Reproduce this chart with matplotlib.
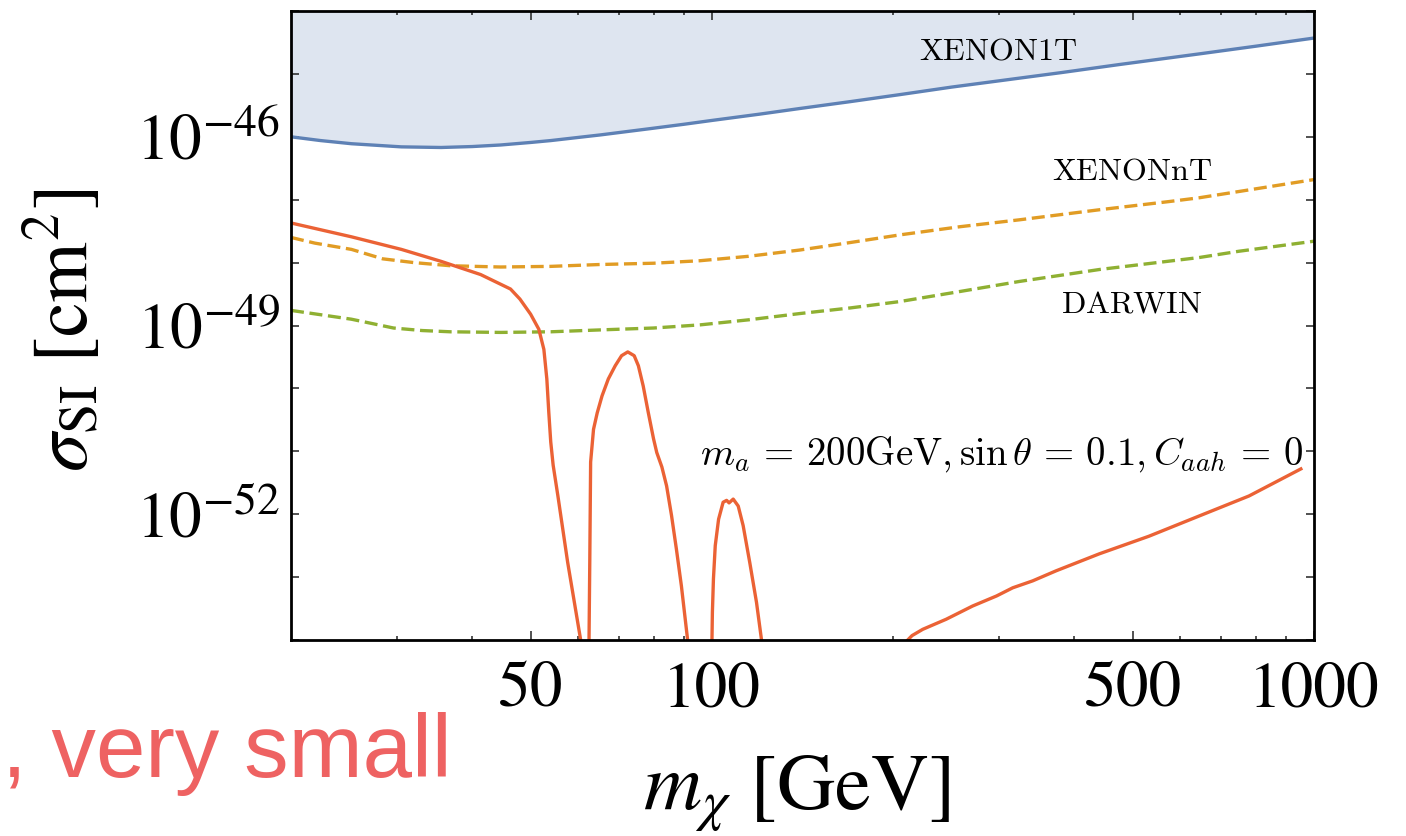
import numpy as np
import matplotlib
matplotlib.use("Agg")
import matplotlib.pyplot as plt
from matplotlib.ticker import FixedLocator, NullFormatter, NullLocator

plt.rcParams['mathtext.fontset'] = 'stix'
plt.rcParams['font.family'] = ['STIXGeneral', 'DejaVu Serif']

# ---------------- data (sigma given as log10 values) ----------------
m_1t = [20, 22.4, 25.2, 30.5, 35.5, 40.0, 44.6, 50.0, 54.0, 60.0, 65.3, 79.0, 90.0, 100,
        120, 140, 170, 205, 250, 300, 380, 476, 550, 647, 800, 1000]
log_1t = [-46.00, -46.06, -46.11, -46.16, -46.17, -46.155, -46.13, -46.09, -46.06, -46.01,
          -45.97, -45.87, -45.80, -45.74, -45.64, -45.55, -45.44, -45.33, -45.21, -45.11,
          -44.98, -44.85, -44.77, -44.68, -44.56, -44.43]

m_nt = [20, 21.9, 25.2, 28.4, 32.0, 36.8, 44.6, 54.0, 65.3, 80.0, 95.6, 115, 140, 170, 205,
        258, 324, 440, 574, 644, 750, 1000]
log_nt = [-47.60, -47.69, -47.79, -47.94, -48.00, -48.05, -48.07, -48.06, -48.03, -48.01,
          -47.97, -47.90, -47.80, -47.68, -47.56, -47.43, -47.32, -47.16, -47.03, -46.97,
          -46.87, -46.68]

m_dw = [20, 25.2, 29.6, 33.0, 36.8, 44.6, 54.0, 65.3, 80.0, 95.6, 115, 140, 170, 205, 258,
        324, 440, 644, 750, 1000]
log_dw = [-48.76, -48.90, -49.04, -49.08, -49.10, -49.11, -49.10, -49.07, -49.04, -48.99,
          -48.91, -48.81, -48.72, -48.62, -48.46, -48.30, -48.11, -47.92, -47.82, -47.66]

# model curve, split into its visible branches
m_ra = [20, 25.2, 30.5, 35.5, 41.3, 46.3, 48.0, 50.0, 51.6, 52.6, 53.2, 53.6, 54.0, 54.5,
        55.5, 57.6, 60.5, 60.7]
log_ra = [-47.37, -47.59, -47.79, -47.98, -48.19, -48.42, -48.58, -48.82, -49.06, -49.38,
          -49.85, -50.38, -50.85, -51.22, -51.71, -52.76, -53.98, -54.10]

m_rb = [62.5, 62.7, 62.9, 63.6, 64.5, 65.7, 67.3, 69.1, 70.8, 72.5, 74.3, 75.5, 76.9, 78.4,
        80.0, 81.0, 82.6, 84.1, 85.7, 87.3, 89.0, 91.4]
log_rb = [-54.10, -52.72, -51.17, -50.65, -50.39, -50.12, -49.85, -49.64, -49.48, -49.42,
          -49.48, -49.64, -49.96, -50.38, -50.80, -51.02, -51.25, -51.55, -52.02, -52.55,
          -53.14, -54.10]

m_rc = [100, 100.2, 100.6, 101.3, 102.6, 104.4, 105.8, 106.8, 108.5, 110.6, 112.7, 115.6,
        118.6, 121.3]
log_rc = [-54.10, -53.56, -53.03, -52.50, -52.08, -51.81, -51.78, -51.82, -51.76, -51.87,
          -52.18, -52.77, -53.40, -54.10]

m_rd = [209, 215, 224, 245, 271, 297, 316, 341, 373, 440, 532, 644, 780, 951]
log_rd = [-54.05, -53.93, -53.83, -53.67, -53.46, -53.30, -53.17, -53.06, -52.90, -52.63,
          -52.35, -52.03, -51.71, -51.28]

x_major = [50, 100, 500, 1000]
x_major_labels = ['50', '100', '500', '1000']
x_minor = [30, 40, 60, 70, 80, 90, 200, 300, 400, 600, 700, 800, 900]
y_decades = list(range(-54, -43))
y_labelled = [-46, -49, -52]

c_blue = '#5E81B5'
c_orange = '#E19C24'
c_green = '#8FB032'
c_red = '#EB6235'

# ---------------- figure ----------------
fig = plt.figure(figsize=(14.06, 8.37), dpi=100)
W, H = 1406, 837
ax = fig.add_axes([291 / W, 1 - 641 / H, (1314 - 291) / W, (641 - 12) / H])
ax.set_xscale('log')
ax.set_yscale('log')

def pw(v):
    return 10.0 ** np.asarray(v, dtype=float)

ax.fill_between(m_1t, pw(log_1t), 1e-43, color=c_blue, alpha=0.2, lw=0)
ax.plot(m_1t, pw(log_1t), color=c_blue, lw=2.4)
ax.plot(m_nt, pw(log_nt), color=c_orange, lw=2.4, linestyle=(0, (3.9, 1.7)))
ax.plot(m_dw, pw(log_dw), color=c_green, lw=2.4, linestyle=(0, (3.9, 1.7)))
for mm, ll in [(m_ra, log_ra), (m_rb, log_rb), (m_rc, log_rc), (m_rd, log_rd)]:
    ax.plot(mm, pw(ll), color=c_red, lw=2.4, solid_joinstyle='round')

ax.set_xlim(20, 1000)
ax.set_ylim(1e-54, 1e-44)

ax.xaxis.set_major_locator(FixedLocator(x_major))
ax.set_xticklabels(x_major_labels)
ax.xaxis.set_minor_locator(FixedLocator(x_minor))
ax.xaxis.set_minor_formatter(NullFormatter())
ax.yaxis.set_major_locator(FixedLocator([10.0 ** k for k in y_decades]))
ax.yaxis.set_minor_locator(NullLocator())
ax.set_yticklabels([(r'$10^{%d}$' % k) if k in y_labelled else '' for k in y_decades])

ax.tick_params(which='both', direction='in', top=True, right=True, color='#222222', width=1.1)
ax.tick_params(axis='x', which='major', length=6.5, pad=15, labelsize=47)
ax.tick_params(axis='x', which='minor', length=3)
ax.tick_params(axis='y', which='major', length=5.8, pad=8, labelsize=47)
for s in ax.spines.values():
    s.set_linewidth(2.0)
    s.set_color('black')

# labels inside plot
ax.text(0.691, 0.937, r'$\mathrm{XENON1T}$', transform=ax.transAxes, fontsize=23,
        ha='center', va='center', math_fontfamily='cm')
ax.text(0.822, 0.7456, r'$\mathrm{XENONnT}$', transform=ax.transAxes, fontsize=23,
        ha='center', va='center', math_fontfamily='cm')
ax.text(0.8216, 0.534, r'$\mathrm{DARWIN}$', transform=ax.transAxes, fontsize=23,
        ha='center', va='center', math_fontfamily='cm')
ax.text(0.989, 0.280,
        r'$m_a\,=\,200\mathrm{GeV}, \sin\theta\,=\,0.1, C_{aah}\,=\,0$',
        transform=ax.transAxes, fontsize=28, ha='right', va='baseline', math_fontfamily='cm')

# axis titles
fig.text(797 / W, 1 - 794 / H, r'$m_\chi\ [\mathrm{GeV}]$', fontsize=58, ha='center', va='center')
fig.text(64 / W, 1 - 330 / H, r'$\sigma_{\mathrm{SI}}\ [\mathrm{cm}^2]$', fontsize=56,
         rotation=90, ha='center', va='center')

# slide text fragment
fig.text(2 / W, 1 - 777 / H, ', very small', fontsize=64, color='#EE6262',
         family=['Liberation Sans', 'DejaVu Sans'], ha='left', va='baseline')

fig.savefig('out.png', dpi=100)
